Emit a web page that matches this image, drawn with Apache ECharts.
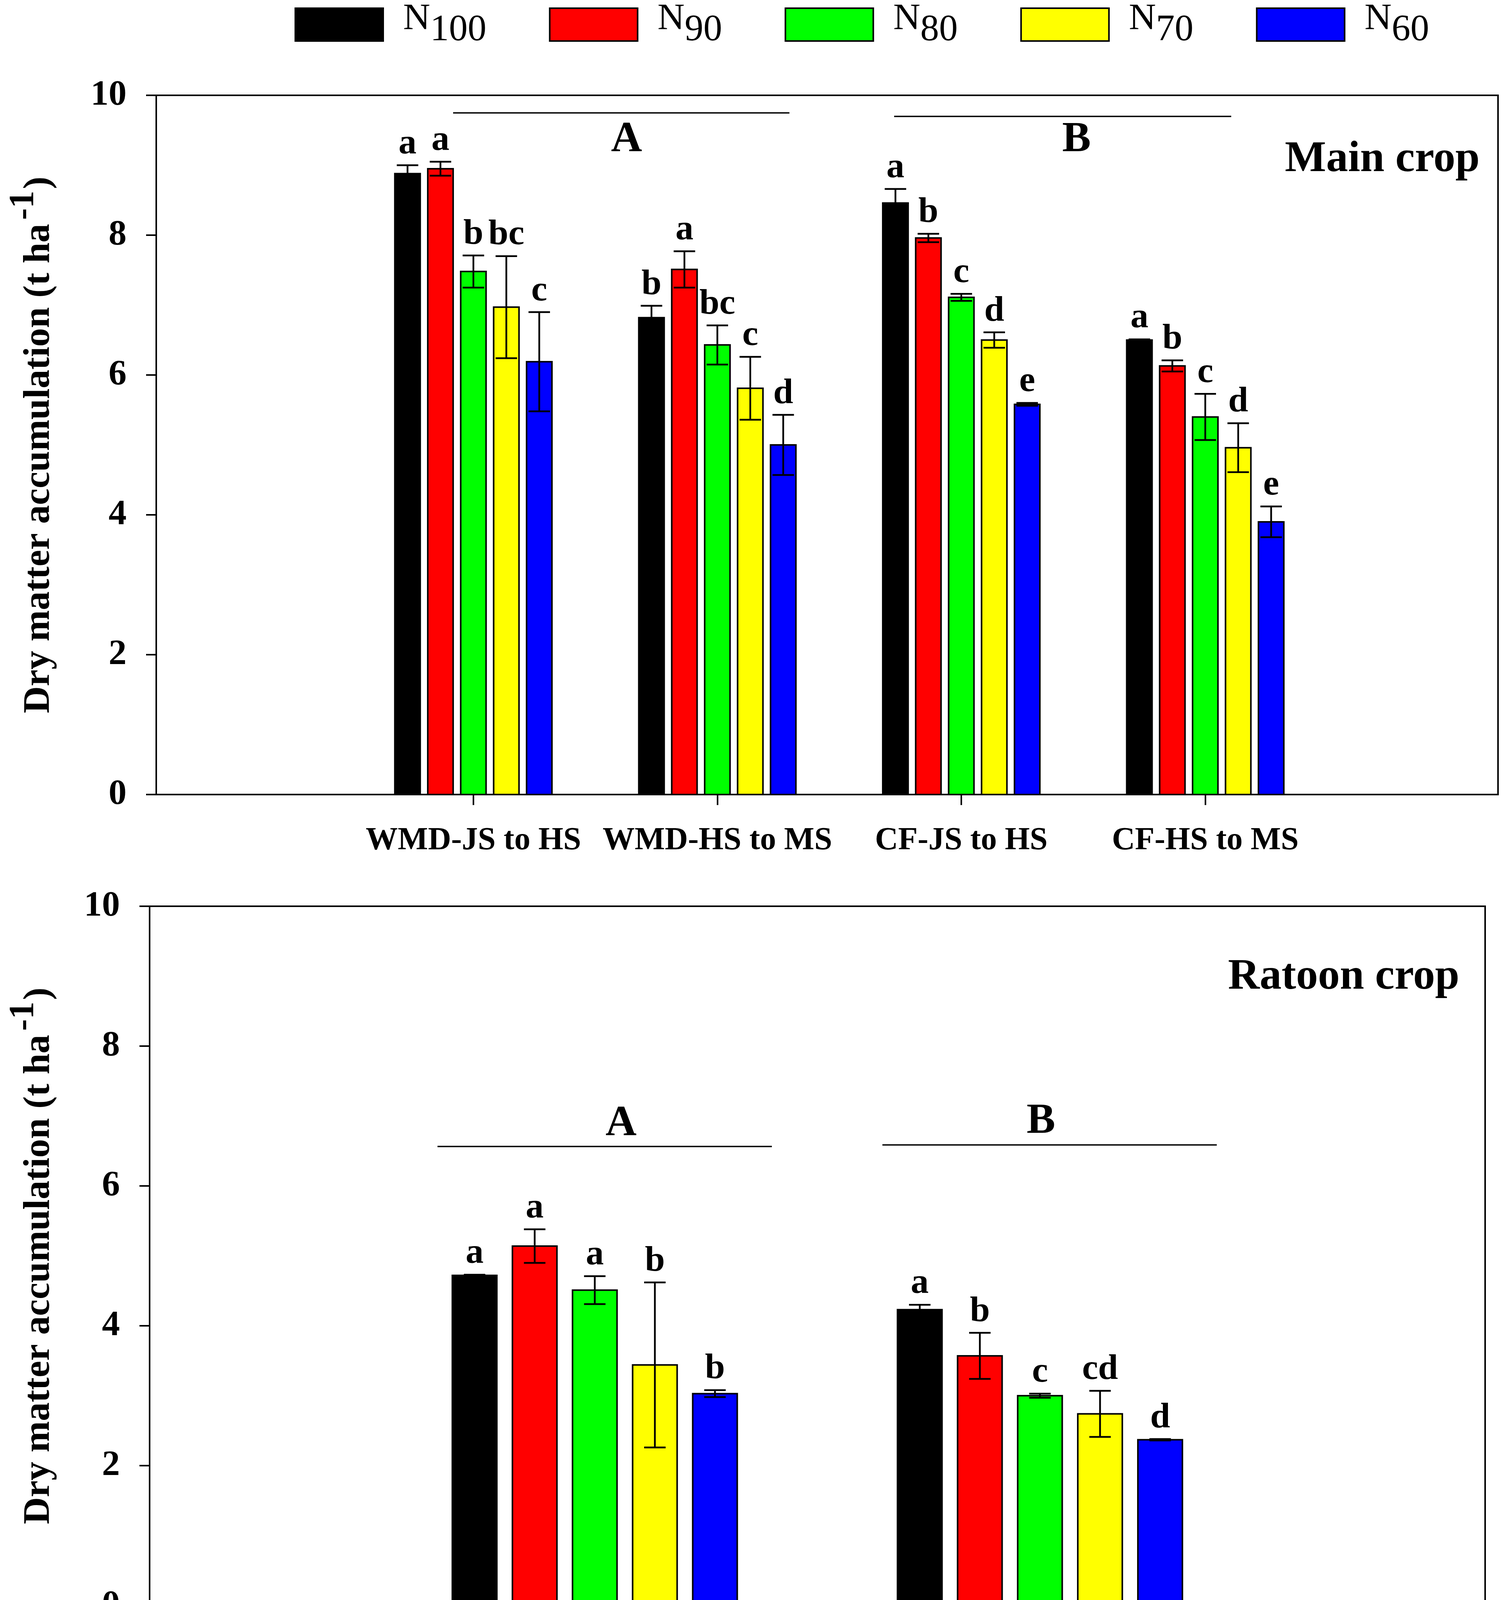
<!DOCTYPE html>
<html><head><meta charset="utf-8">
<script src="https://cdn.jsdelivr.net/npm/echarts@6/dist/echarts.min.js"></script>
<style>html,body{margin:0;padding:0;background:#fff}#c{width:3858px;height:4520px}</style>
</head><body><div id="c"></div>
<script>
// ---------- data ----------
const levels = ['N100', 'N90', 'N80', 'N70', 'N60'];
const colors = ['#000000', '#FF0000', '#00FF00', '#FFFF00', '#0000FF'];

const mainStages = ['WMD-JS to HS', 'WMD-HS to MS', 'CF-JS to HS', 'CF-HS to MS'];
const mainMeans = [
  [8.88, 6.82, 8.46, 6.50],   // N100
  [8.95, 7.51, 7.96, 6.13],   // N90
  [7.48, 6.43, 7.11, 5.40],   // N80
  [6.97, 5.81, 6.50, 4.96],   // N70
  [6.19, 5.00, 5.58, 3.90]    // N60
];
const mainErr = [
  [0.12, 0.17, 0.20, 0.01],
  [0.10, 0.26, 0.06, 0.08],
  [0.23, 0.28, 0.05, 0.33],
  [0.73, 0.45, 0.11, 0.35],
  [0.71, 0.43, 0.02, 0.22]
];
const mainLetters = [
  ['a', 'b', 'a', 'a'],
  ['a', 'a', 'b', 'b'],
  ['b', 'bc', 'c', 'c'],
  ['bc', 'c', 'd', 'd'],
  ['c', 'd', 'e', 'e']
];

const ratoonStages = ['WMD-HS to MS', 'CF-HS to MS'];
const ratoonMeans = [
  [4.72, 4.23],
  [5.14, 3.57],
  [4.51, 3.00],
  [3.44, 2.74],
  [3.03, 2.37]
];
const ratoonErr = [
  [0.01, 0.07],
  [0.24, 0.33],
  [0.20, 0.03],
  [1.18, 0.33],
  [0.05, 0.01]
];
const ratoonLetters = [
  ['a', 'a'],
  ['a', 'b'],
  ['a', 'c'],
  ['b', 'cd'],
  ['b', 'd']
];

const yTicks = [0, 2, 4, 6, 8, 10];

// ---------- layout helpers ----------
const FONT = '"Liberation Serif", "Times New Roman", serif';
const STRIDE = 0.135;
const mainStart = 1.3, ratoonStart = 1.0;

function makeRender(li, letters, barW) {
  return function (params, api) {
    const x = api.value(0), v = api.value(1), e = api.value(2);
    const p0 = api.coord([x, 0]);
    const p1 = api.coord([x, v]);
    const pt = api.coord([x, v + e]);
    const pb = api.coord([x, v - e]);
    const w = api.size([barW, 0])[0];
    const cx = p1[0];
    const cap = 27.5;
    const ls = { stroke: '#000', lineWidth: 4.5 };
    return {
      type: 'group',
      children: [
        { type: 'rect', shape: { x: cx - w / 2, y: p1[1], width: w, height: p0[1] - p1[1] },
          style: { fill: colors[li], stroke: '#000', lineWidth: 4 } },
        { type: 'line', shape: { x1: cx, y1: pb[1], x2: cx, y2: pt[1] }, style: ls },
        { type: 'line', shape: { x1: cx - cap, y1: pt[1], x2: cx + cap, y2: pt[1] }, style: ls },
        { type: 'line', shape: { x1: cx - cap, y1: pb[1], x2: cx + cap, y2: pb[1] }, style: ls },
        { type: 'text', style: { text: letters[params.dataIndex], x: cx, y: pt[1] - 8,
          align: 'center', verticalAlign: 'bottom', font: 'bold 92px ' + FONT, fill: '#000' } }
      ]
    };
  };
}

const series = [];
levels.forEach((name, li) => {
  series.push({
    type: 'custom', name: name, xAxisIndex: 0, yAxisIndex: 0,
    itemStyle: { color: colors[li], borderColor: '#000', borderWidth: 4 },
    encode: { x: 0, y: 1 },
    data: mainMeans[li].map((v, ci) => [mainStart + ci + (li - 2) * STRIDE, v, mainErr[li][ci]]),
    renderItem: makeRender(li, mainLetters[li], 0.104)
  });
  series.push({
    type: 'custom', name: name, xAxisIndex: 1, yAxisIndex: 1,
    itemStyle: { color: colors[li], borderColor: '#000', borderWidth: 4 },
    encode: { x: 0, y: 1 },
    data: ratoonMeans[li].map((v, ci) => [ratoonStart + ci + (li - 2) * STRIDE, v, ratoonErr[li][ci]]),
    renderItem: makeRender(li, ratoonLetters[li], 0.100)
  });
});

function yAxisCfg(gridIndex, gap) {
  return {
    type: 'value', gridIndex: gridIndex, min: 0, max: 10, interval: 2,
    axisLine: { show: true, lineStyle: { color: '#000', width: 4 } },
    axisTick: { show: true, length: 26, lineStyle: { color: '#000', width: 4 } },
    axisLabel: { margin: 76, color: '#000', fontFamily: FONT, fontWeight: 'bold', fontSize: 92,
      formatter: v => (yTicks.indexOf(v) >= 0 ? String(v) : '') },
    splitLine: { show: false },
    name: '{a|Dry matter accumulation (t ha}{s|-1}{a|)}',
    nameLocation: 'middle', nameGap: gap, nameRotate: 90,
    nameTextStyle: {
      color: '#000', fontFamily: FONT, fontWeight: 'bold', fontSize: 96,
      rich: {
        a: { color: '#000', fontFamily: FONT, fontWeight: 'bold', fontSize: 96, lineHeight: 100 },
        s: { color: '#000', fontFamily: FONT, fontWeight: 'bold', fontSize: 90, lineHeight: 100, padding: [0, 4, 76, 10] }
      }
    }
  };
}

function xAxisCfg(gridIndex, max, start, stages) {
  const vals = stages.map((s, i) => start + i);
  return {
    type: 'value', gridIndex: gridIndex, min: 0, max: max,
    axisLine: { show: true, onZero: false, lineStyle: { color: '#000', width: 4 } },
    axisTick: { show: true, length: 27, lineStyle: { color: '#000', width: 4 }, customValues: vals },
    axisLabel: { show: true, margin: 78, color: '#000', fontFamily: FONT, fontWeight: 'bold', fontSize: 82,
      customValues: vals,
      formatter: v => stages[Math.round(v - start)] || '' },
    splitLine: { show: false }
  };
}

const xTop = xAxisCfg(0, 5.5, mainStart, mainStages);
const xBot = xAxisCfg(1, 3, ratoonStart, ratoonStages);
xBot.name = 'Growth stage';
xBot.nameLocation = 'middle';
xBot.nameGap = 235;
xBot.nameTextStyle = { color: '#000', fontFamily: FONT, fontWeight: 'bold', fontSize: 135 };

const boldText = (txt, x, y, size, align) => ({
  type: 'text', x: x, y: y,
  style: { text: txt, align: align, verticalAlign: 'middle', font: 'bold ' + size + 'px ' + FONT, fill: '#000' }
});
const hline = (x1, x2, y) => ({
  type: 'line', shape: { x1: x1, y1: y, x2: x2, y2: y }, style: { stroke: '#000', lineWidth: 3.5 }
});

const option = {
  backgroundColor: '#fff',
  animation: false,
  legend: {
    data: levels, left: 754, top: 0, padding: 0, itemGap: 160,
    itemWidth: 225, itemHeight: 84, icon: 'rect', selectedMode: false,
    itemStyle: { borderColor: '#000', borderWidth: 4 },
    formatter: n => '{n|N}{s|' + n.slice(1) + '}',
    textStyle: {
      color: '#000', fontFamily: FONT, fontSize: 96,
      rich: {
        n: { color: '#000', fontFamily: FONT, fontSize: 96, lineHeight: 100, padding: [0, 0, 26, 46] },
        s: { color: '#000', fontFamily: FONT, fontSize: 96, lineHeight: 100, padding: [30, 0, 0, 0] }
      }
    }
  },
  grid: [
    { left: 400, top: 244, width: 3435, height: 1790, show: true, borderColor: '#000', borderWidth: 4 },
    { left: 383, top: 2320, width: 3419, height: 1790, show: true, borderColor: '#000', borderWidth: 4 }
  ],
  xAxis: [xTop, xBot],
  yAxis: [yAxisCfg(0, 250), yAxisCfg(1, 233)],
  series: series,
  graphic: [
    hline(1160, 2021, 289), boldText('A', 1604, 359, 110, 'center'),
    hline(2289, 3152, 298), boldText('B', 2756, 359, 110, 'center'),
    boldText('Main crop', 3788, 409, 112, 'right'),
    hline(1120, 1976, 2935), boldText('A', 1590, 2878, 110, 'center'),
    hline(2259, 3115, 2931), boldText('B', 2665, 2872, 110, 'center'),
    boldText('Ratoon crop', 3736, 2502, 112, 'right')
  ]
};

const chart = echarts.init(document.getElementById('c'));
chart.setOption(option);
</script>
</body></html>
